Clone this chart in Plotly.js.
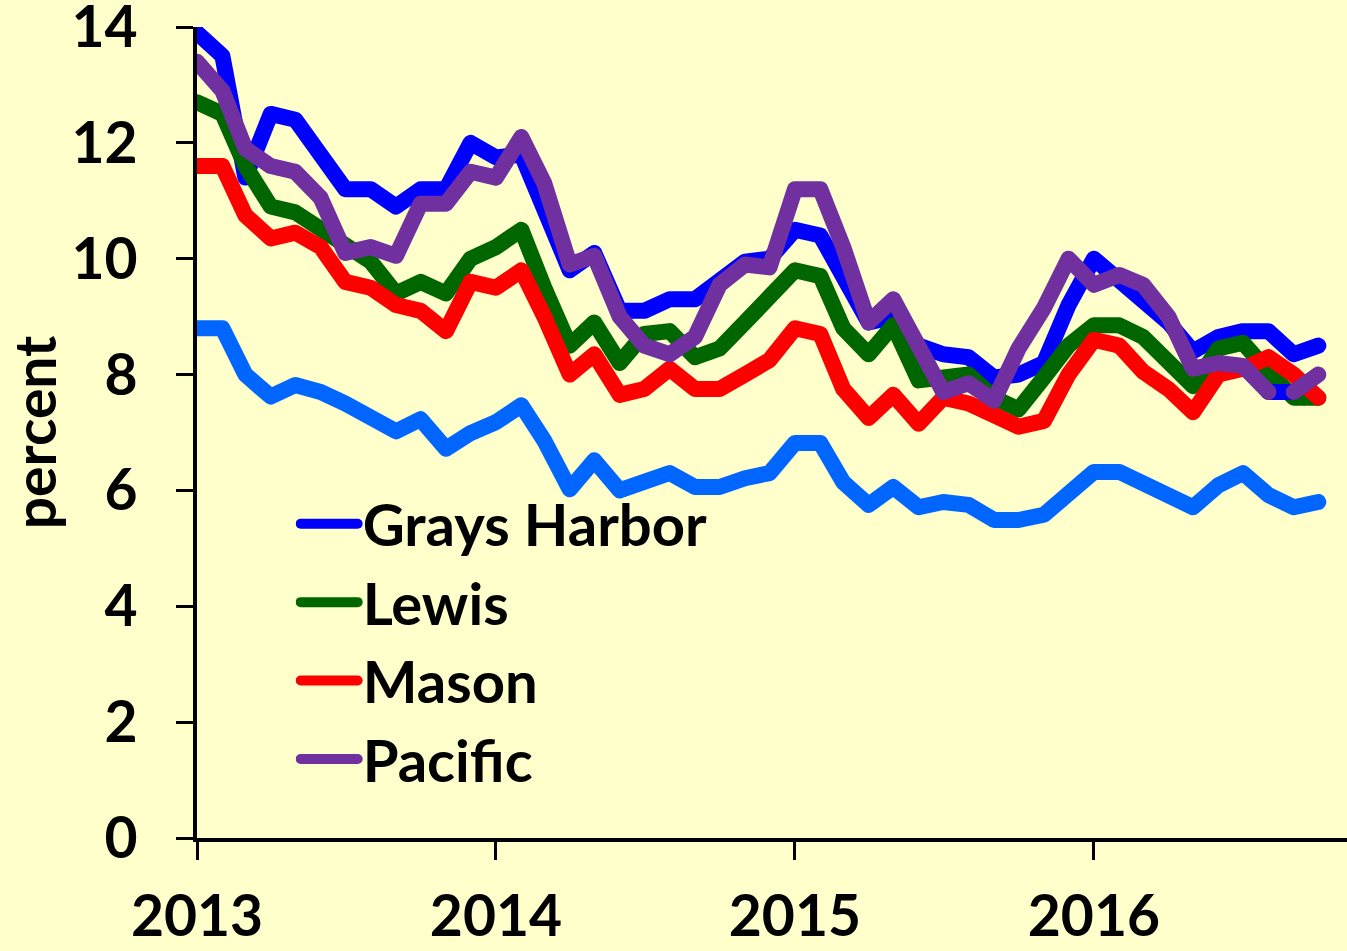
<!DOCTYPE html>
<html><head><meta charset="utf-8">
<script src="https://cdn.plot.ly/plotly-3.0.1.min.js"></script>
<style>
html,body{margin:0;padding:0;background:#FFFFCC;}
#chart{width:1347px;height:951px;}
.scatterlayer .js-line, .legendlines path {stroke-linejoin:round; stroke-linecap:round;}
</style></head><body><div id="chart"></div>
<script>
const months = ['2013-01-01','2013-02-01','2013-03-01','2013-04-01','2013-05-01','2013-06-01','2013-07-01','2013-08-01','2013-09-01','2013-10-01','2013-11-01','2013-12-01',
'2014-01-01','2014-02-01','2014-03-01','2014-04-01','2014-05-01','2014-06-01','2014-07-01','2014-08-01','2014-09-01','2014-10-01','2014-11-01','2014-12-01',
'2015-01-01','2015-02-01','2015-03-01','2015-04-01','2015-05-01','2015-06-01','2015-07-01','2015-08-01','2015-09-01','2015-10-01','2015-11-01','2015-12-01',
'2016-01-01','2016-02-01','2016-03-01','2016-04-01','2016-05-01','2016-06-01','2016-07-01','2016-08-01','2016-09-01','2016-10-01'];

const graysHarbor = [13.9,13.5,11.4,12.5,12.4,11.8,11.2,11.2,10.9,11.2,11.2,12.0,
  11.75,11.8,10.8,9.8,10.1,9.1,9.1,9.3,9.3,9.6,9.95,10.0,
  10.5,10.4,9.7,8.9,9.0,8.5,8.35,8.3,7.95,8.0,8.2,9.2,
  10.0,9.65,9.3,8.9,8.4,8.65,8.75,8.75,8.35,8.5];
const lewis = [12.7,12.5,11.6,10.9,10.8,10.5,10.2,9.95,9.4,9.6,9.4,10.0,
  10.2,10.5,9.5,8.5,8.9,8.2,8.7,8.75,8.3,8.45,8.9,9.3,
  9.8,9.7,8.8,8.35,8.85,7.9,7.95,8.0,7.6,7.4,7.95,8.5,
  8.85,8.85,8.65,8.2,7.8,8.45,8.55,8.05,7.6,7.6];
const mason = [11.6,11.6,10.75,10.35,10.45,10.2,9.6,9.5,9.2,9.1,8.75,9.6,
  9.5,9.8,9.0,8.0,8.35,7.65,7.75,8.1,7.75,7.75,8.0,8.25,
  8.8,8.7,7.75,7.25,7.65,7.15,7.6,7.5,7.3,7.1,7.2,8.0,
  8.6,8.5,8.05,7.75,7.35,8.0,8.1,8.3,8.0,7.6];
const pacific = [13.4,12.9,11.9,11.6,11.5,11.05,10.1,10.2,10.05,10.95,10.95,11.5,
  11.4,12.1,11.3,9.9,10.05,9.0,8.5,8.35,8.65,9.55,9.9,9.85,
  11.2,11.2,10.2,8.9,9.3,8.45,7.7,7.85,7.55,8.45,9.15,10.0,
  9.55,9.72,9.55,9.0,8.1,8.2,8.15,7.7,7.7,8.0];
const washington = [8.8,8.8,8.0,7.62,7.82,7.7,7.5,7.25,7.02,7.23,6.72,6.99,
  7.18,7.47,6.86,6.02,6.52,6.0,6.18,6.3,6.06,6.06,6.21,6.3,
  6.82,6.82,6.14,5.75,6.06,5.71,5.8,5.75,5.49,5.49,5.58,5.96,
  6.32,6.32,6.13,5.92,5.71,6.09,6.3,5.92,5.71,5.8];

const yTicks = [0,2,4,6,8,10,12,14];
const xTicks = ['2013-01-01','2014-01-01','2015-01-01','2016-01-01'];
const xTickText = ['2013','2014','2015','2016'];

const colors = {gh:'#0000FF', lewis:'#006600', mason:'#FF0000', pacific:'#7030A0', wa:'#0066FF'};
const LW = 16;
const FAMILY = 'Lato, "Open Sans", sans-serif';
const TICKFONT = {family:FAMILY, size:57, color:'#000000', weight:'bold'};
const LEGFONT = {family:FAMILY, size:58, color:'#000000', weight:'bold'};

const splitAt = 43; // Pacific segment between these two points is drawn in blue in the original
const traces = [
  {x:months, y:washington, name:'Washington', mode:'lines', line:{color:colors.wa, width:LW}, showlegend:false},
  {x:months, y:graysHarbor, name:'Grays Harbor', mode:'lines', line:{color:colors.gh, width:LW}, legendgroup:'a'},
  {x:months, y:lewis, name:'Lewis', mode:'lines', line:{color:colors.lewis, width:LW}, legendgroup:'b'},
  {x:months, y:mason, name:'Mason', mode:'lines', line:{color:colors.mason, width:LW}, legendgroup:'c'},
  {x:months.slice(splitAt, splitAt+2), y:pacific.slice(splitAt, splitAt+2), name:'Pacific', mode:'lines', line:{color:colors.gh, width:LW}, showlegend:false, legendgroup:'d'},
  {x:months.slice(0, splitAt+1), y:pacific.slice(0, splitAt+1), name:'Pacific', mode:'lines', line:{color:colors.pacific, width:LW}, legendgroup:'d'},
  {x:months.slice(splitAt+1), y:pacific.slice(splitAt+1), name:'Pacific', mode:'lines', line:{color:colors.pacific, width:LW}, showlegend:false, legendgroup:'d'}
];

const layout = {
  width:1347, height:951,
  paper_bgcolor:'#FFFFCC', plot_bgcolor:'#FFFFCC',
  margin:{l:197, r:0, t:27, b:113},
  font:TICKFONT,
  showlegend:true,
  legend:{x:0.0858, y:0.442, xanchor:'left', yanchor:'top', bgcolor:'rgba(0,0,0,0)', font:LEGFONT, tracegroupgap:0, itemwidth:57},
  xaxis:{type:'date', range:['2013-01-01','2016-11-05'], showgrid:false, zeroline:false,
    showline:true, linecolor:'#000', linewidth:4, ticks:'outside', ticklen:18, tickwidth:3, tickcolor:'#000',
    tickvals:xTicks, ticktext:xTickText, tickfont:TICKFONT, ticklabelstandoff:8, ticklabeloverflow:'allow'},
  yaxis:{range:[0,14], showgrid:false, zeroline:false, showline:true, linecolor:'#000', linewidth:4,
    ticks:'outside', ticklen:17, tickwidth:3, tickcolor:'#000', tickvals:yTicks, tickfont:TICKFONT, ticklabelstandoff:27,
    ticklabeloverflow:'allow',
    title:{text:'percent', font:TICKFONT, standoff:27}}
};

Plotly.newPlot('chart', traces, layout, {displayModeBar:false, staticPlot:true});
</script></body></html>
